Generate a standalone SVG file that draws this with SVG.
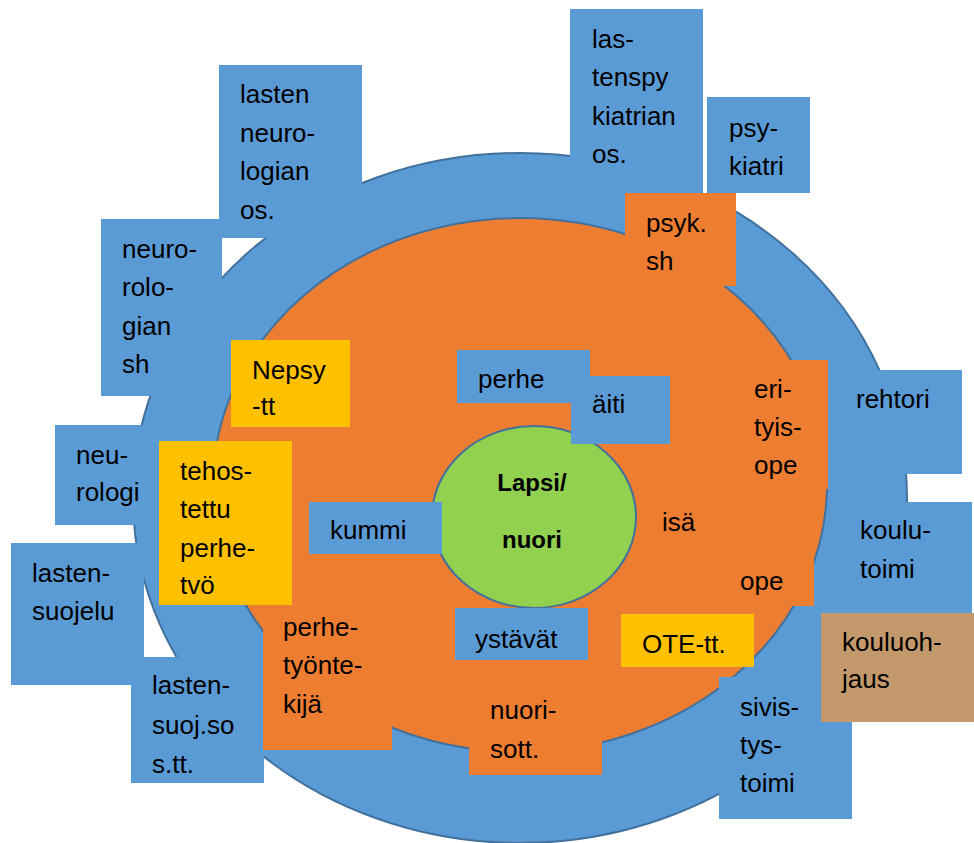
<svg xmlns="http://www.w3.org/2000/svg" width="974" height="843" viewBox="0 0 974 843">
<style>
.b{fill:#5B9BD5}
.o{fill:#ED7D31}
.y{fill:#FFC000}
.t{fill:#C3996B}
text{font-family:"Liberation Sans",Arial,sans-serif;font-size:26px;fill:#000}
.bold{font-weight:bold;font-size:24px}
.ring{stroke:#41719C;stroke-width:2}
</style>
<rect width="974" height="843" fill="#fff"/>
<g id="rings">
<ellipse class="b ring" cx="520" cy="498" rx="387" ry="345"/>
<ellipse class="o ring" cx="520" cy="485" rx="307" ry="267"/>
<ellipse cx="534" cy="517" rx="102" ry="91" fill="#92D050" class="ring"/>
</g>
<g id="connectors"></g>
<g id="n-lastenneuro"><rect class="b" x="219" y="65" width="143" height="173"/><text x="240" y="103">lasten</text><text x="240" y="142">neuro-</text><text x="240" y="180">logian</text><text x="240" y="219">os.</text></g>
<g id="n-neurosh"><rect class="b" x="101" y="219" width="121" height="177"/><text x="122" y="258">neuro-</text><text x="122" y="296">rolo-</text><text x="122" y="335">gian</text><text x="122" y="373">sh</text></g>
<g id="n-lastenpsyk"><rect class="b" x="570" y="9" width="133" height="184"/><text x="592" y="48">las-</text><text x="592" y="86">tenspy</text><text x="592" y="125">kiatrian</text><text x="592" y="163">os.</text></g>
<g id="n-psykiatri"><rect class="b" x="707" y="97" width="103" height="96"/><text x="729" y="137">psy-</text><text x="729" y="175">kiatri</text></g>
<g id="n-psyksh"><rect class="o" x="625" y="193" width="111" height="93"/><text x="646" y="232">psyk.</text><text x="646" y="270">sh</text></g>
<g id="n-rehtori"><rect class="b" x="820" y="370" width="142" height="104"/><text x="856" y="408">rehtori</text></g>
<g id="n-erityisope"><rect class="o" x="735" y="360" width="93" height="129"/><text x="754" y="398">eri-</text><text x="754" y="436">tyis-</text><text x="754" y="474">ope</text></g>
<g id="n-koulutoimi"><rect class="b" x="840" y="502" width="132" height="111"/><text x="860" y="539">koulu-</text><text x="860" y="578">toimi</text></g>
<g id="n-ope"><rect class="o" x="720" y="548" width="94" height="58"/><text x="740" y="590">ope</text></g>
<g id="n-sivistystoimi"><rect class="b" x="719" y="677" width="133" height="142"/><text x="740" y="716">sivis-</text><text x="740" y="754">tys-</text><text x="740" y="792">toimi</text></g>
<g id="n-kouluohjaus"><rect class="t" x="821" y="613" width="153" height="109"/><text x="842" y="651">kouluoh-</text><text x="842" y="688">jaus</text></g>
<g id="n-ote"><rect class="y" x="621" y="614" width="133" height="53"/><text x="642" y="653">OTE-tt.</text></g>
<g id="n-nuorisott"><rect class="o" x="469" y="690" width="133" height="85"/><text x="490" y="719">nuori-</text><text x="490" y="758">sott.</text></g>
<g id="n-ystavat"><rect class="b" x="455" y="608" width="133" height="52"/><text x="475" y="648">ystävät</text></g>
<g id="n-perhe"><rect class="b" x="457" y="350" width="133" height="53"/><text x="478" y="388">perhe</text></g>
<g id="n-aiti"><rect class="b" x="571" y="376" width="99" height="68"/><text x="592" y="413">äiti</text></g>
<g id="n-isa"><text x="662" y="531">isä</text></g>
<g id="n-lapsi"><text class="bold" x="532" y="491" text-anchor="middle">Lapsi/</text><text class="bold" x="532" y="548" text-anchor="middle">nuori</text></g>
<g id="n-kummi"><rect class="b" x="309" y="502" width="133" height="52"/><text x="330" y="539">kummi</text></g>
<g id="n-nepsy"><rect class="y" x="231" y="340" width="119" height="87"/><text x="252" y="379">Nepsy</text><text x="252" y="415">-tt</text></g>
<g id="n-neurologi"><rect class="b" x="55" y="425" width="110" height="100"/><text x="76" y="464">neu-</text><text x="76" y="501">rologi</text></g>
<g id="n-lastensuojelu"><rect class="b" x="11" y="543" width="133" height="142"/><text x="32" y="582">lasten-</text><text x="32" y="620">suojelu</text></g>
<g id="n-lastensuojsos"><rect class="b" x="131" y="657" width="133" height="126"/><text x="152" y="694">lasten-</text><text x="152" y="734">suoj.so</text><text x="152" y="773">s.tt.</text></g>
<g id="n-perhetyontekija"><rect class="o" x="263" y="600" width="129" height="150"/><text x="283" y="636">perhe-</text><text x="283" y="674">työnte-</text><text x="283" y="713">kijä</text></g>
<g id="n-tehostettu"><rect class="y" x="159" y="441" width="133" height="164"/><text x="180" y="480">tehos-</text><text x="180" y="518">tettu</text><text x="180" y="557">perhe-</text><text x="180" y="594">tvö</text></g>
</svg>
